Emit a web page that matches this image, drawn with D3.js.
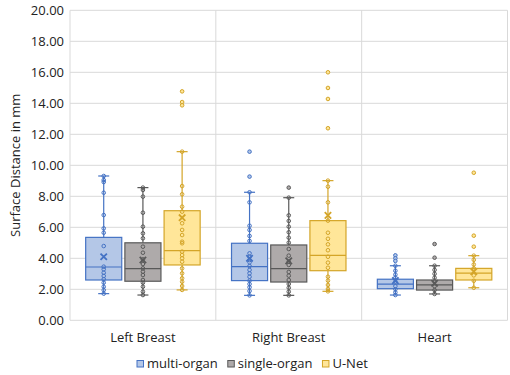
<!DOCTYPE html>
<html>
<head>
<meta charset="utf-8">
<script src="https://cdn.jsdelivr.net/npm/d3@7"></script>
<style>
  body { margin: 0; background: #fff; }
  svg text { font-family: "Open Sans", "Noto Sans", sans-serif; fill: #222; }
</style>
</head>
<body>
<div id="chart"></div>
<script>
// categories and series
const categories = ["Left Breast", "Right Breast", "Heart"];
const seriesNames = ["multi-organ", "single-organ", "U-Net"];
const yTicks = [0, 2, 4, 6, 8, 10, 12, 14, 16, 18, 20];

// box stats, [series][category]
const q1 = [[2.60, 2.56, 2.04], [2.52, 2.47, 1.95], [3.57, 3.20, 2.60]];
const median = [[3.44, 3.46, 2.34], [3.33, 3.33, 2.28], [4.49, 4.19, 3.05]];
const q3 = [[5.35, 4.97, 2.65], [5.00, 4.86, 2.60], [7.07, 6.43, 3.35]];
const mean = [[4.10, 4.00, 2.56], [3.89, 3.83, 2.39], [6.62, 6.77, 3.14]];
const whiskerLow = [[1.72, 1.61, 1.63], [1.63, 1.61, 1.70], [1.96, 1.87, 2.10]];
const whiskerHigh = [[9.31, 8.26, 3.52], [8.56, 7.91, 3.52], [10.88, 9.01, 4.17]];

// inner points, [series][category]
const points = [
  [
    [9.31, 9.05, 8.92, 8.23, 6.79, 5.93, 5.65, 4.79, 3.46, 3.29, 3.07, 2.86, 2.65, 2.43, 2.17, 1.95, 1.72],
    [8.26, 7.61, 6.10, 5.83, 5.44, 5.12, 4.32, 4.10, 3.89, 3.74, 3.50, 3.25, 3.03, 2.81, 2.56, 2.34, 2.13, 1.89, 1.61],
    [3.52, 3.20, 2.95, 2.75, 2.50, 2.20, 2.00, 1.80, 1.63]
  ],
  [
    [8.56, 8.41, 7.98, 6.94, 6.04, 5.61, 5.29, 4.75, 4.36, 3.93, 3.63, 3.35, 3.14, 2.92, 2.60, 2.43, 2.17, 1.85, 1.63],
    [7.91, 6.77, 6.41, 6.04, 5.68, 5.33, 5.01, 4.60, 4.17, 3.78, 3.57, 3.12, 2.88, 2.60, 2.34, 2.10, 1.85, 1.61],
    [3.52, 3.25, 3.00, 2.75, 2.50, 2.20, 1.95, 1.70]
  ],
  [
    [10.88, 8.66, 8.13, 7.33, 7.01, 6.26, 5.83, 5.50, 5.07, 4.97, 4.43, 4.21, 4.00, 3.78, 3.35, 3.03, 2.71, 2.49, 2.21, 1.96],
    [9.01, 8.62, 7.61, 6.43, 5.65, 5.26, 4.90, 4.52, 4.10, 3.72, 3.39, 2.81, 2.56, 2.28, 2.02, 1.87],
    [4.17, 3.90, 3.60, 3.35, 2.90, 2.55, 2.10]
  ]
];

// outliers, [series][category]
const outliers = [
  [[], [10.88, 9.27], [4.19, 4.00, 3.83]],
  [[], [8.56], [4.92, 4.04]],
  [[14.77, 14.08, 13.87], [16.00, 14.99, 14.28, 12.39], [9.52, 5.46, 4.75]]
];

const fills = ["#b4c7e7", "#aeaaaa", "#ffe699"];
const strokes = ["#4472c4", "#595959", "#d4a528"];

const width = 510, height = 375;
const margin = { top: 10.3, right: 2.5, bottom: 54.7, left: 70 };

const svg = d3.select("#chart").append("svg")
  .attr("width", width)
  .attr("height", height);

const x = d3.scaleBand()
  .domain(categories)
  .range([margin.left, width - margin.right]);

const xInner = d3.scaleBand()
  .domain(seriesNames)
  .range([0, x.bandwidth()])
  .paddingInner(0.08)
  .paddingOuter(0.4);

const y = d3.scaleLinear()
  .domain([0, 20])
  .range([height - margin.bottom, margin.top]);

// gridlines
svg.append("g")
  .selectAll("line")
  .data(yTicks)
  .enter().append("line")
  .attr("x1", margin.left)
  .attr("x2", width - margin.right)
  .attr("y1", d => y(d))
  .attr("y2", d => y(d))
  .attr("stroke", "#d9d9d9")
  .attr("stroke-width", 1);

// category separators
const bounds = categories.map(c => x(c)).concat([x(categories[categories.length - 1]) + x.bandwidth()]);
svg.append("g")
  .selectAll("line")
  .data(bounds)
  .enter().append("line")
  .attr("x1", d => d)
  .attr("x2", d => d)
  .attr("y1", y(20))
  .attr("y2", y(0))
  .attr("stroke", "#d9d9d9")
  .attr("stroke-width", 1);

// y tick labels
svg.append("g")
  .selectAll("text")
  .data(yTicks)
  .enter().append("text")
  .attr("x", 64)
  .attr("y", d => y(d))
  .attr("dy", "0.35em")
  .attr("text-anchor", "end")
  .style("font-size", "13px")
  .text(d => d.toFixed(2));

// y title
svg.append("text")
  .attr("transform", `translate(20,${(y(0) + y(20)) / 2}) rotate(-90)`)
  .attr("text-anchor", "middle")
  .style("font-size", "13px")
  .text("Surface Distance in mm");

// category labels
svg.append("g")
  .selectAll("text")
  .data(categories)
  .enter().append("text")
  .attr("x", d => x(d) + x.bandwidth() / 2)
  .attr("y", 342)
  .attr("text-anchor", "middle")
  .style("font-size", "13px")
  .text(d => d);

// boxes
const boxes = [];
seriesNames.forEach((s, si) => {
  categories.forEach((c, ci) => {
    boxes.push({ si, ci, cx: x(c) + xInner(s) + xInner.bandwidth() / 2 });
  });
});

const bw = xInner.bandwidth();
const capW = 11;

const g = svg.append("g")
  .selectAll("g")
  .data(boxes)
  .enter().append("g");

// whiskers
g.append("line")
  .attr("x1", d => d.cx).attr("x2", d => d.cx)
  .attr("y1", d => y(whiskerHigh[d.si][d.ci]))
  .attr("y2", d => y(q3[d.si][d.ci]))
  .attr("stroke", d => strokes[d.si]).attr("stroke-width", 1.2);
g.append("line")
  .attr("x1", d => d.cx).attr("x2", d => d.cx)
  .attr("y1", d => y(whiskerLow[d.si][d.ci]))
  .attr("y2", d => y(q1[d.si][d.ci]))
  .attr("stroke", d => strokes[d.si]).attr("stroke-width", 1.2);
[whiskerHigh, whiskerLow].forEach(arr => {
  g.append("line")
    .attr("x1", d => d.cx - capW / 2).attr("x2", d => d.cx + capW / 2)
    .attr("y1", d => y(arr[d.si][d.ci]))
    .attr("y2", d => y(arr[d.si][d.ci]))
    .attr("stroke", d => strokes[d.si]).attr("stroke-width", 1.2);
});

// box
g.append("rect")
  .attr("x", d => d.cx - bw / 2)
  .attr("width", bw)
  .attr("y", d => y(q3[d.si][d.ci]))
  .attr("height", d => y(q1[d.si][d.ci]) - y(q3[d.si][d.ci]))
  .attr("fill", d => fills[d.si])
  .attr("stroke", d => strokes[d.si])
  .attr("stroke-width", 1.2);

// median
g.append("line")
  .attr("x1", d => d.cx - bw / 2).attr("x2", d => d.cx + bw / 2)
  .attr("y1", d => y(median[d.si][d.ci]))
  .attr("y2", d => y(median[d.si][d.ci]))
  .attr("stroke", d => strokes[d.si]).attr("stroke-width", 1.2);

// inner points and outliers
g.each(function(d) {
  const sel = d3.select(this);
  sel.selectAll("circle.pt")
    .data(points[d.si][d.ci])
    .enter().append("circle")
    .attr("class", "pt")
    .attr("cx", d.cx)
    .attr("cy", v => y(v))
    .attr("r", 1.8)
    .attr("fill", "none")
    .attr("stroke", strokes[d.si])
    .attr("stroke-width", 1);
  sel.selectAll("circle.out")
    .data(outliers[d.si][d.ci])
    .enter().append("circle")
    .attr("class", "out")
    .attr("cx", d.cx)
    .attr("cy", v => y(v))
    .attr("r", 1.8)
    .attr("fill", fills[d.si])
    .attr("stroke", strokes[d.si])
    .attr("stroke-width", 1);
});

// mean marker
const m = 3.2;
g.append("path")
  .attr("d", d => {
    const cy = y(mean[d.si][d.ci]);
    return `M${d.cx - m},${cy - m}L${d.cx + m},${cy + m}M${d.cx - m},${cy + m}L${d.cx + m},${cy - m}`;
  })
  .attr("stroke", d => strokes[d.si])
  .attr("stroke-width", 1.8)
  .attr("fill", "none");

// legend
const legend = svg.append("g").attr("transform", "translate(0,368)");
let lx = 137;
seriesNames.forEach((s, i) => {
  const item = legend.append("g").attr("transform", `translate(${lx},0)`);
  item.append("rect")
    .attr("x", 0).attr("y", -7.5)
    .attr("width", 6.5).attr("height", 6.5)
    .attr("fill", fills[i])
    .attr("stroke", strokes[i])
    .attr("stroke-width", 1);
  const t = item.append("text")
    .attr("x", 10).attr("y", 0)
    .style("font-size", "13px")
    .text(s);
  lx += 10 + t.node().getComputedTextLength() + 10;
});
</script>
</body>
</html>
